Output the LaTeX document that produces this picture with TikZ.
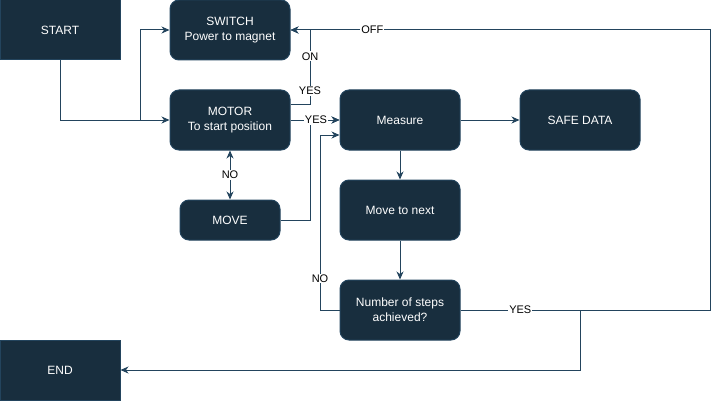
\documentclass[tikz,border=0pt]{standalone}
\usepackage{fontspec}
\setmainfont{Liberation Sans}
\usetikzlibrary{arrows.meta,calc}
\definecolor{BoxClr}{HTML}{182E3E}
\definecolor{LineClr}{HTML}{23445D}

\begin{document}
\begin{tikzpicture}[x=1pt,y=-1pt,
  >={Stealth[length=8pt,width=7pt,inset=2.5pt]},
  box/.style={draw=LineClr,fill=BoxClr,text=white,line width=1pt,
    minimum width=120pt,minimum height=60pt,align=center,inner sep=0pt,
    font=\fontsize{12}{15}\selectfont},
  rbox/.style={box,rounded corners=9pt},
  flow/.style={draw=LineClr,line width=1pt,->},
  twoway/.style={draw=LineClr,line width=1pt,<->},
  lbl/.style={fill=white,text=black,inner sep=1pt,
    font=\fontsize{11}{13}\selectfont}]
\useasboundingbox (0,0) rectangle (719,401);

\node[box]  (start)    at (60,30)   {START};
\node[rbox] (switch)   at (230,30)  {SWITCH\\Power to magnet};
\node[rbox] (motor)    at (230,120) {MOTOR\\To start position};
\node[rbox] (measure)  at (400,120) {Measure};
\node[rbox] (safedata) at (580,120) {SAFE DATA};
\node[rbox,minimum width=100pt,minimum height=40pt] (move) at (230,220) {MOVE};
\node[rbox] (next)     at (400,210) {Move to next};
\node[rbox] (steps)    at (400,310) {Number of steps\\achieved?};
\node[box]  (finish)   at (60,370)  {END};

\coordinate (fork) at (140,120);

\draw[flow] (start.south) |- (motor.west);
\draw[flow] (fork) |- (switch.west);
\draw[flow] ([yshift=15pt]motor.east) -- (310,105)
  -- node[lbl,pos=.19] {YES} node[lbl,pos=.65] {ON} (310,30) -- (switch.east);
\draw[flow] (move.east) -- (310,220) |- (measure.west);
\draw[flow] (motor.east) -- node[lbl,pos=.52] {YES} (measure.west);
\draw[twoway] (motor.south) -- node[lbl] {NO} (move.north);
\draw[flow] (measure.east) -- (safedata.west);
\draw[flow] (measure.south) -- (next.north);
\draw[flow] (next.south) -- (steps.north);
\draw[flow] (steps.west) -- (320,310)
  -- node[lbl,pos=.18] {NO} (320,135) -- ([yshift=-15pt]measure.west);
\draw[flow] (steps.east) -- (710,310) -- (710,30)
  -- node[lbl,pos=.805] {OFF} (switch.east);
\draw[flow] (steps.east) -- node[lbl,pos=.5] {YES} (580,310)
  -- (580,370) -- (finish.east);

\end{tikzpicture}
\end{document}
